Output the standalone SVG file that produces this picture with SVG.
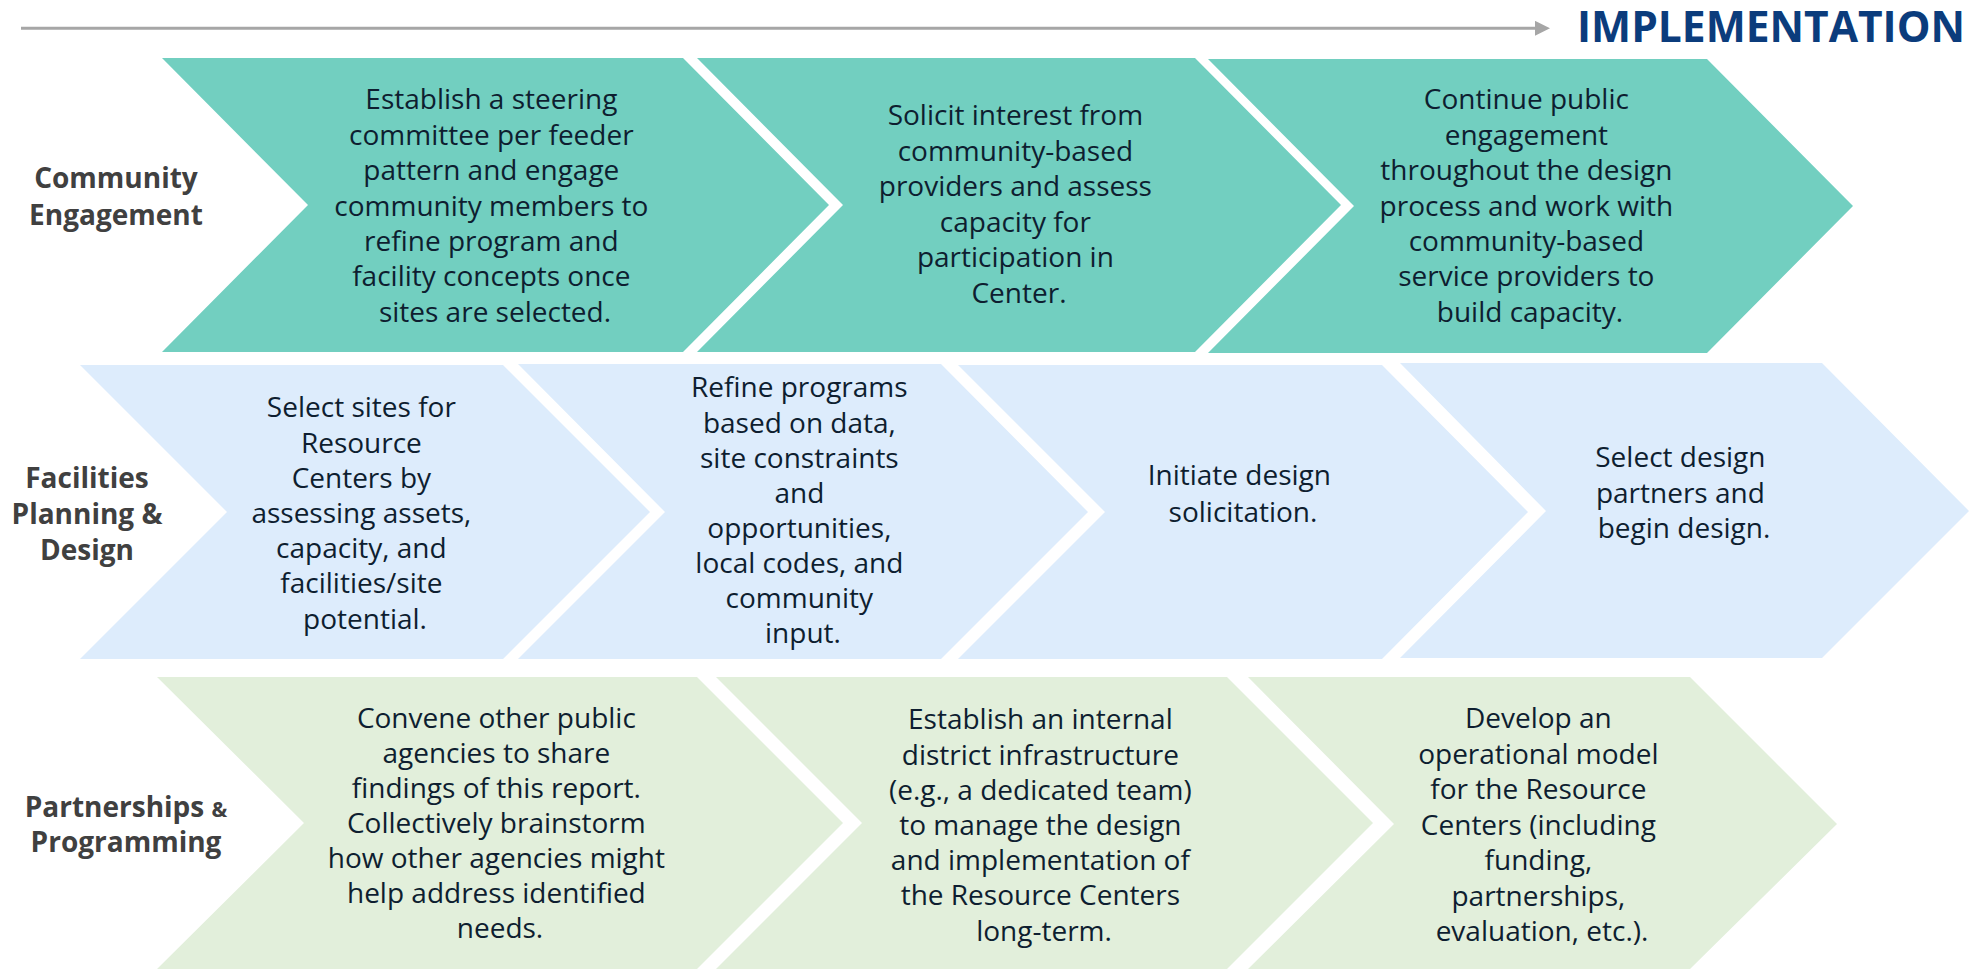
<svg xmlns="http://www.w3.org/2000/svg" width="1984" height="970" viewBox="0 0 1984 970">
<defs>
<style>
.bg{fill:#ffffff}
.teal{fill:#72CFC0}
.blue{fill:#DDECFC}
.green{fill:#E2EFDB}
.body{font-family:"Open Sans","Noto Sans","DejaVu Sans",sans-serif;font-size:28px;fill:#0E1E30;text-anchor:middle}
.lbl{font-family:"Open Sans","Noto Sans","DejaVu Sans",sans-serif;font-size:28px;font-weight:700;fill:#404040;text-anchor:middle}
.head{font-family:"Open Sans","Noto Sans","DejaVu Sans",sans-serif;font-size:42.5px;font-weight:700;fill:#0B3C7C}
.axis{stroke:#A6A6A6;stroke-width:3;fill:none}
</style>
<marker id="arr" viewBox="0 0 10 10" refX="0" refY="5" markerWidth="5" markerHeight="5" orient="auto" markerUnits="strokeWidth">
<path d="M0,0 L10,5 L0,10 Z" fill="#A6A6A6"/>
</marker>
</defs>
<rect class="bg" x="0" y="0" width="1984" height="970"/>

<g id="connectors">
<line class="axis" x1="21" y1="28.3" x2="1535" y2="28.3" marker-end="url(#arr)"/>
</g>

<g id="header">
<text class="head" x="1577" y="42">IMPLEMENTATION</text>
</g>

<g id="label-community">
<text class="lbl" x="116" y="188">Community</text>
<text class="lbl" x="116" y="225">Engagement</text>
</g>
<g id="label-facilities">
<text class="lbl" x="87" y="488">Facilities</text>
<text class="lbl" x="87" y="524">Planning &amp;</text>
<text class="lbl" x="87" y="560">Design</text>
</g>
<g id="label-partnerships">
<text class="lbl" x="126" y="817">Partnerships <tspan font-size="21">&amp;</tspan></text>
<text class="lbl" x="126" y="852">Programming</text>
</g>

<!-- Row 1 -->
<g id="ce1">
<path class="teal" d="M162,58 L683,58 L829,205 L683,352 L162,352 L308,205 Z"/>
<text class="body">
<tspan x="495" y="109">Establish a steering</tspan>
<tspan x="495" y="145">committee per feeder</tspan>
<tspan x="495" y="180">pattern and engage</tspan>
<tspan x="495" y="215.5">community members to</tspan>
<tspan x="495" y="251">refine program and</tspan>
<tspan x="495" y="286">facility concepts once</tspan>
<tspan x="495" y="322">sites are selected.</tspan>
</text>
</g>
<g id="ce2">
<path class="teal" d="M697,58 L1195,58 L1341,205 L1195,352 L697,352 L843,205 Z"/>
<text class="body">
<tspan x="1019" y="125">Solicit interest from</tspan>
<tspan x="1019" y="160.5">community-based</tspan>
<tspan x="1019" y="196">providers and assess</tspan>
<tspan x="1019" y="231.5">capacity for</tspan>
<tspan x="1019" y="267">participation in</tspan>
<tspan x="1019" y="302.5">Center.</tspan>
</text>
</g>
<g id="ce3">
<path class="teal" d="M1208,59 L1707,59 L1853,206 L1707,353 L1208,353 L1354,206 Z"/>
<text class="body">
<tspan x="1530" y="109">Continue public</tspan>
<tspan x="1530" y="145">engagement</tspan>
<tspan x="1530" y="180">throughout the design</tspan>
<tspan x="1530" y="215.5">process and work with</tspan>
<tspan x="1530" y="251">community-based</tspan>
<tspan x="1530" y="286">service providers to</tspan>
<tspan x="1530" y="322">build capacity.</tspan>
</text>
</g>

<!-- Row 2 -->
<g id="fp1">
<path class="blue" d="M80,365 L503,365 L650,512 L503,659 L80,659 L227,512 Z"/>
<text class="body">
<tspan x="365" y="417">Select sites for</tspan>
<tspan x="365" y="453">Resource</tspan>
<tspan x="365" y="488">Centers by</tspan>
<tspan x="365" y="523">assessing assets,</tspan>
<tspan x="365" y="558">capacity, and</tspan>
<tspan x="365" y="593">facilities/site</tspan>
<tspan x="365" y="629">potential.</tspan>
</text>
</g>
<g id="fp2">
<path class="blue" d="M518,364 L941,364 L1088,512 L941,659 L518,659 L665,512 Z"/>
<text class="body">
<tspan x="803" y="397">Refine programs</tspan>
<tspan x="803" y="432.5">based on data,</tspan>
<tspan x="803" y="467.5">site constraints</tspan>
<tspan x="803" y="502.5">and</tspan>
<tspan x="803" y="537.5">opportunities,</tspan>
<tspan x="803" y="572.5">local codes, and</tspan>
<tspan x="803" y="608">community</tspan>
<tspan x="803" y="643">input.</tspan>
</text>
</g>
<g id="fp3">
<path class="blue" d="M958,365 L1382,365 L1528,512 L1382,659 L958,659 L1105,512 Z"/>
<text class="body">
<tspan x="1243" y="485">Initiate design</tspan>
<tspan x="1243" y="522">solicitation.</tspan>
</text>
</g>
<g id="fp4">
<path class="blue" d="M1400,363 L1822,363 L1969,511 L1822,658 L1400,658 L1546,511 Z"/>
<text class="body">
<tspan x="1684" y="467">Select design</tspan>
<tspan x="1684" y="503">partners and</tspan>
<tspan x="1684" y="538">begin design.</tspan>
</text>
</g>

<!-- Row 3 -->
<g id="pp1">
<path class="green" d="M157,677 L697,677 L843,823 L697,969 L157,969 L304,823 Z"/>
<text class="body">
<tspan x="500" y="728">Convene other public</tspan>
<tspan x="500" y="763">agencies to share</tspan>
<tspan x="500" y="798">findings of this report.</tspan>
<tspan x="500" y="833">Collectively brainstorm</tspan>
<tspan x="500" y="868">how other agencies might</tspan>
<tspan x="500" y="903">help address identified</tspan>
<tspan x="500" y="938">needs.</tspan>
</text>
</g>
<g id="pp2">
<path class="green" d="M716,677 L1227,677 L1373,823 L1227,969 L716,969 L862,823 Z"/>
<text class="body">
<tspan x="1044" y="729">Establish an internal</tspan>
<tspan x="1044" y="765">district infrastructure</tspan>
<tspan x="1044" y="800">(e.g., a dedicated team)</tspan>
<tspan x="1044" y="835">to manage the design</tspan>
<tspan x="1044" y="870">and implementation of</tspan>
<tspan x="1044" y="905">the Resource Centers</tspan>
<tspan x="1044" y="941">long-term.</tspan>
</text>
</g>
<g id="pp3">
<path class="green" d="M1248,677 L1690,677 L1837,824 L1690,969 L1248,969 L1394,824 Z"/>
<text class="body">
<tspan x="1542" y="728">Develop an</tspan>
<tspan x="1542" y="763.5">operational model</tspan>
<tspan x="1542" y="799">for the Resource</tspan>
<tspan x="1542" y="834.5">Centers (including</tspan>
<tspan x="1542" y="870">funding,</tspan>
<tspan x="1542" y="905.5">partnerships,</tspan>
<tspan x="1542" y="941">evaluation, etc.).</tspan>
</text>
</g>
</svg>
